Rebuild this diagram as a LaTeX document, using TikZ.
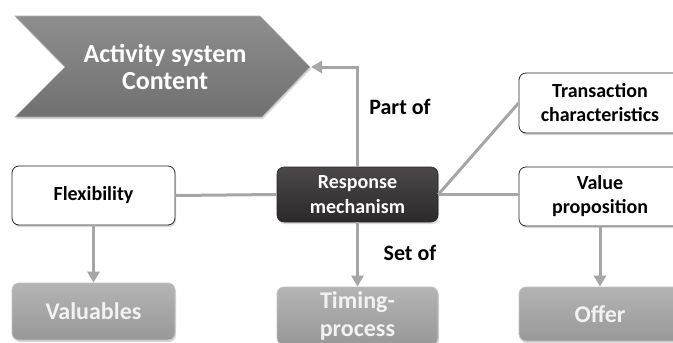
\documentclass[tikz,border=0pt]{standalone}
\usepackage{fontspec}
\setmainfont{Carlito}
\usetikzlibrary{arrows.meta,shadows}
\definecolor{linegray}{HTML}{A6A6A6}
\definecolor{chevtop}{HTML}{8E8E8E}
\definecolor{chevbot}{HTML}{707070}
\definecolor{darktop}{HTML}{4A4848}
\definecolor{darkbot}{HTML}{2B2929}
\definecolor{greytop}{HTML}{B4B4B4}
\definecolor{greybot}{HTML}{989898}
\begin{document}
\begin{tikzpicture}[x=1pt,y=-1pt,
  conn/.style={draw=linegray,line width=3pt},
  arr/.style={conn,-{Triangle[length=11pt,width=12pt]}},
  boxbase/.style={rounded corners=7pt,align=center,inner sep=2pt,
    drop shadow={shadow xshift=1pt,shadow yshift=-2pt,opacity=0.3}},
  whitebox/.style={boxbase,draw=black!85,line width=0.8pt,fill=white,
    font=\fontsize{20}{24}\selectfont\bfseries,text=black},
  darkbox/.style={boxbase,draw=darkbot,line width=0.6pt,top color=darktop,bottom color=darkbot,
    font=\fontsize{20}{25}\selectfont\bfseries,text=white},
  greybox/.style={boxbase,draw=greytop!80!white,line width=0.8pt,top color=greytop,bottom color=greybot,
    font=\fontsize{24}{28}\selectfont\bfseries,text=white!95!black},
  lbl/.style={font=\fontsize{22}{26}\selectfont\bfseries,text=black}
]
\useasboundingbox (0,0) rectangle (673,343);
\clip (0,0) rectangle (673,343);
\fill[white] (0,0) rectangle (673,343);

% chevron
\path[top color=chevtop,bottom color=chevbot,draw=chevtop!70!white,line width=0.6pt,
  drop shadow={shadow xshift=1pt,shadow yshift=-2pt,opacity=0.3}]
  (15,16) -- (260,16) -- (310,67) -- (262,117) -- (15,117) -- (65,67) -- cycle;
\coordinate (tip) at (311,67);
\node[font=\fontsize{26}{27}\selectfont\bfseries,text=white,align=center] (act) at (165,67)
  {Activity system\\Content};

% boxes
\node[darkbox,minimum width=161pt,minimum height=55pt] (resp) at (357.5,194.5) {Response\\mechanism};
\node[whitebox,minimum width=163pt,minimum height=59pt] (flex) at (93.5,195.5) {Flexibility};
\node[whitebox,minimum width=162pt,minimum height=60pt] (trans) at (600,103) {Transaction\\characteristics};
\node[whitebox,minimum width=162pt,minimum height=59pt] (value) at (600,196.5) {Value\\proposition};
\node[greybox,minimum width=163pt,minimum height=57pt] (valu) at (93.5,311.5) {Valuables};
\node[greybox,minimum width=161pt,minimum height=58pt] (timing) at (357.5,316) {Timing-\\process};
\node[greybox,minimum width=162pt,minimum height=54pt] (offer) at (600,314) {Offer};

% labels
\node[lbl] (partof) at (400,107) {Part of};
\node[lbl] (setof) at (410,253) {Set of};

% connectors
\draw[arr] (resp.north) |- (tip);
\draw[conn] (flex.east) -- (resp.west);
\draw[conn] (resp.east) -- (value.west |- resp.east);
\draw[conn] (resp.east) -- (trans.west);
\draw[arr] (flex.south) -- (valu.north);
\draw[arr] (resp.south) -- (timing.north);
\draw[arr] (value.south) -- (offer.north);
\end{tikzpicture}
\end{document}
